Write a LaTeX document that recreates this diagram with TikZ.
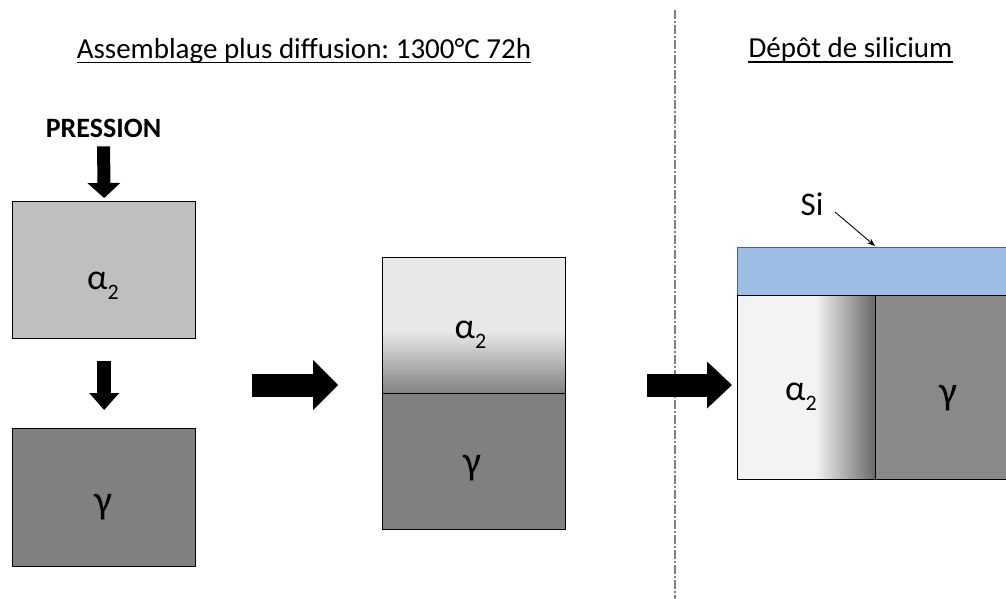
\documentclass[tikz,border=0pt]{standalone}
\usepackage{fontspec}
\setmainfont{Carlito}
\usetikzlibrary{arrows.meta}
\definecolor{boxA}{RGB}{191,191,191}
\definecolor{boxG}{RGB}{128,128,128}
\definecolor{lightA}{RGB}{232,232,232}
\definecolor{darkA}{RGB}{130,130,130}
\definecolor{siFill}{RGB}{157,189,228}
\definecolor{siLine}{RGB}{65,100,150}
\definecolor{rightG}{RGB}{137,137,137}
\definecolor{whiteA}{RGB}{243,243,243}
\definecolor{edgeG}{RGB}{105,105,105}
\definecolor{sepGray}{RGB}{128,128,128}
\newcommand{\lowtwo}{\raisebox{-10pt}{\fontsize{22}{22}\selectfont 2}}
\frenchspacing
\begin{document}
\begin{tikzpicture}[x=1pt,y=-1pt,
  title/.style={font=\fontsize{29}{34}\selectfont, inner sep=0pt, anchor=base},
  lbl/.style={font=\fontsize{36}{40}\selectfont, inner sep=0pt, anchor=base},
  glbl/.style={font=\fontsize{40}{44}\selectfont, inner sep=0pt, anchor=base},
  silabel/.style={font=\fontsize{33}{38}\selectfont, inner sep=0pt, anchor=base},
  blockbox/.style={draw=black, line width=1.4pt, inner sep=0pt, anchor=north west},
  blkarrow/.style n args={3}{line width=#1, -{Triangle[width=#2, length=#3, line width=0pt]}},
  ulined/.style={line width=1.2pt}
]
\useasboundingbox (0,0) rectangle (1006,599);
\begin{scope}
\clip (0,0) rectangle (1006,599);

% titles
\node[title] (t1) at (304,59) {Assemblage plus diffusion: 1300°C 72h};
\draw[ulined] ([yshift=-3.5pt]t1.base west) -- ([yshift=-3.5pt]t1.base east);
\node[title] (t2) at (850.5,58) {Dépôt de silicium};
\draw[ulined] ([yshift=-4pt]t2.base west) -- ([yshift=-4pt]t2.base east);

% separator
\coordinate (sepT) at (675,10);
\coordinate (sepB) at (675,599);
\draw[sepGray, line width=1.2pt, dash pattern=on 9pt off 2pt on 2pt off 2pt] (sepT) -- (sepB);

% left column
\node[font=\bfseries\fontsize{28}{33}\selectfont, inner sep=0pt, anchor=base] (press) at (103.5,138) {PRESSION};
\node[blockbox, fill=boxA, minimum width=183pt, minimum height=137pt] (a1) at (12,201) {};
\node[blockbox, fill=boxG, minimum width=183pt, minimum height=138pt] (g1) at (12,428) {};
\node[lbl] (a1l) at (103,289) {α\lowtwo};
\node[glbl] (g1l) at (103.5,513) {γ};
\draw[blkarrow={13pt}{33pt}{15pt}] ([yshift=-8pt]press.south) -- ([yshift=3pt]a1.north);
\draw[blkarrow={14pt}{30pt}{17pt}] ([yshift=-22pt]a1.south) -- ([yshift=18pt]g1.north);

% first big arrow
\coordinate (r1s) at (252,385);
\coordinate (r1e) at (338,385);
\draw[blkarrow={23pt}{50pt}{25pt}] (r1s) -- (r1e);

% middle column
\fill[lightA] (382,257) rectangle (565,393);
\shade[top color=lightA, bottom color=darkA] (382,331) rectangle (565,393);
\node[blockbox, minimum width=183pt, minimum height=136pt] (m1) at (382,257) {};
\node[blockbox, fill=boxG, minimum width=183pt, minimum height=136pt] (m2) at (382,393) {};
\node[lbl] (m1l) at (470.5,338) {α\lowtwo};
\node[glbl] (m2l) at (472,474) {γ};

% second big arrow
\coordinate (r2s) at (647,385);
\coordinate (r2e) at (732,385);
\draw[blkarrow={23pt}{47pt}{25pt}] (r2s) -- (r2e);

% right column
\node[draw=siLine, fill=siFill, line width=1.4pt, inner sep=0pt, anchor=north west,
      minimum width=300pt, minimum height=48pt] (si) at (737,247) {};
\fill[whiteA] (737,295) rectangle (875,479);
\shade[left color=whiteA, right color=edgeG] (815,295) rectangle (875,479);
\node[blockbox, minimum width=138pt, minimum height=184pt] (r1) at (737,295) {};
\node[blockbox, fill=rightG, minimum width=200pt, minimum height=184pt] (r2) at (875,295) {};
\node[lbl] (r1l) at (801,400) {α\lowtwo};
\node[glbl] (r2l) at (948,404) {γ};

% Si label and pointer
\node[silabel] (silbl) at (812,215) {Si};
\coordinate (sip) at (835,212);
\coordinate (sit) at (875,246);
\draw[line width=0.9pt, -{Stealth[length=8pt,width=6pt]}] (sip) -- (sit);
\end{scope}
\end{tikzpicture}
\end{document}
